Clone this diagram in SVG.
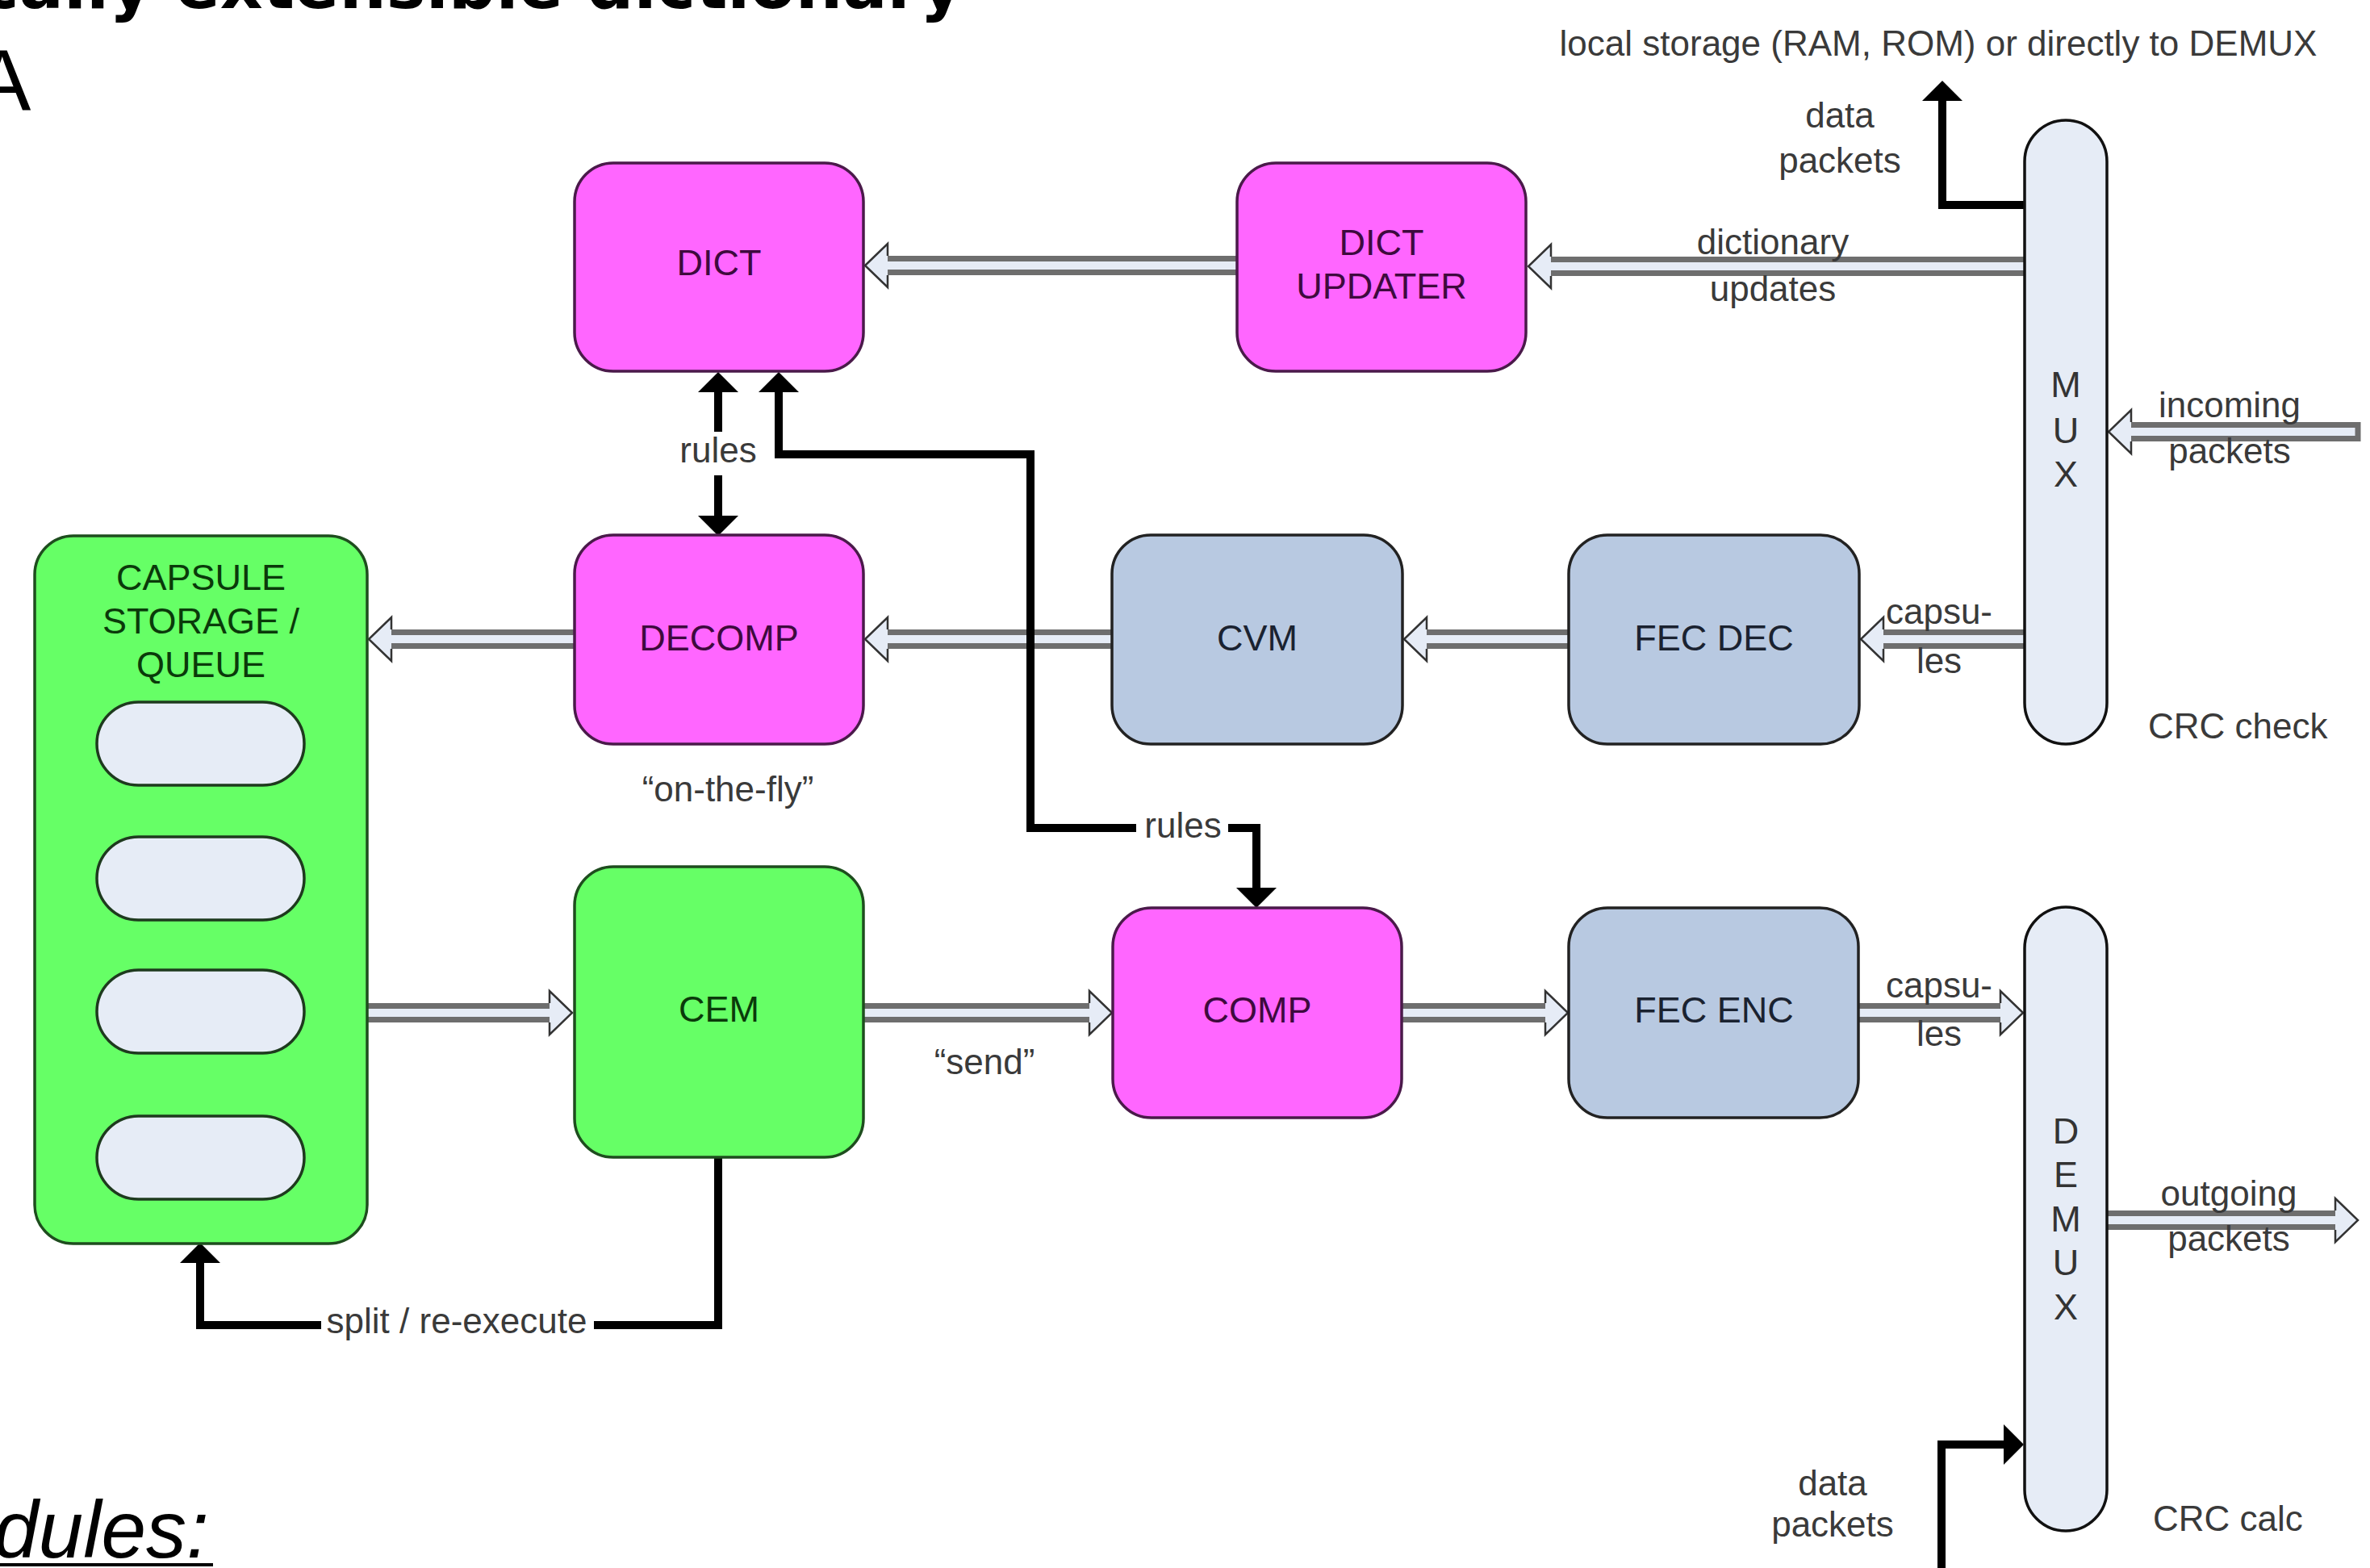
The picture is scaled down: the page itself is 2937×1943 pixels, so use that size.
<svg xmlns="http://www.w3.org/2000/svg" width="2937" height="1943" viewBox="0 0 2937 1943">
<defs>
<style>
.mag{fill:#FF66FF;stroke:#4A1A4A;stroke-width:3.5}
.grn{fill:#66FF66;stroke:#1E4D1E;stroke-width:3.5}
.blu{fill:#B8C9E1;stroke:#222;stroke-width:3.5}
.lt{fill:#E6ECF6;stroke:#111;stroke-width:3.5}
.tm{font-family:"Liberation Sans",Arial,sans-serif;font-size:45px;fill:#3E0A3E;text-anchor:middle}
.tg{font-family:"Liberation Sans",Arial,sans-serif;font-size:45px;fill:#0A3A0A;text-anchor:middle}
.tb{font-family:"Liberation Sans",Arial,sans-serif;font-size:45px;fill:#1A2230;text-anchor:middle}
.tx{font-family:"Liberation Sans",Arial,sans-serif;font-size:45px;fill:#333;text-anchor:middle}
.lbl{font-family:"Liberation Sans",Arial,sans-serif;font-size:44px;fill:#3A3A3A;text-anchor:middle}
.shaft{fill:#E6ECF6;stroke:#6E6E6E;stroke-width:7}
.head{fill:#E6ECF6;stroke:#333;stroke-width:2.5}
.blk{fill:none;stroke:#000;stroke-width:10;stroke-linejoin:miter}
</style>
<marker id="ah" markerUnits="userSpaceOnUse" markerWidth="26" markerHeight="50" refX="0" refY="25" orient="auto" viewBox="0 0 26 50"><path d="M0,0 L25,25 L0,50 z" fill="#000"/></marker>
</defs>
<rect width="2937" height="1943" fill="#fff"/>

<g id="slide-text" font-family="Liberation Sans, Arial, sans-serif">
<text x="-25" y="10" font-family="DejaVu Sans, sans-serif" font-weight="bold" font-size="82">cally extensible dictionary</text>
<text x="-33" y="137" font-size="107" fill="#000">A</text>
<text x="-8" y="1930" font-size="100" font-style="italic" fill="#000">dules:</text>
<rect x="0" y="1937" width="264" height="4" fill="#000"/>
</g>

<g id="connectors">
<!-- hollow arrows -->
<rect class="shaft" x="1092" y="320.5" width="448" height="17"/>
<path class="head" d="M1100,317 V302 L1072,329 L1100,356 V341"/>
<rect class="shaft" x="1914" y="321.5" width="601" height="17"/>
<path class="head" d="M1922,318 V303 L1894,330 L1922,357 V342"/>
<rect class="shaft" x="2326" y="783.5" width="189" height="17"/>
<path class="head" d="M2334,780 V765 L2306,792 L2334,819 V804"/>
<rect class="shaft" x="1760" y="783.5" width="190" height="17"/>
<path class="head" d="M1768,780 V765 L1740,792 L1768,819 V804"/>
<rect class="shaft" x="1092" y="783.5" width="293" height="17"/>
<path class="head" d="M1100,780 V765 L1072,792 L1100,819 V804"/>
<rect class="shaft" x="477" y="783.5" width="243" height="17"/>
<path class="head" d="M485,780 V765 L457,792 L485,819 V804"/>
<rect class="shaft" x="2633" y="526.5" width="289" height="17"/>
<path class="head" d="M2641,523 V508 L2613,535 L2641,562 V547"/>
<rect class="shaft" x="450" y="1246.5" width="239" height="17"/>
<path class="head" d="M681,1243 V1228 L709,1255 L681,1282 V1267"/>
<rect class="shaft" x="1065" y="1246.5" width="293" height="17"/>
<path class="head" d="M1350,1243 V1228 L1378,1255 L1350,1282 V1267"/>
<rect class="shaft" x="1730" y="1246.5" width="193" height="17"/>
<path class="head" d="M1915,1243 V1228 L1943,1255 L1915,1282 V1267"/>
<rect class="shaft" x="2298" y="1246.5" width="189" height="17"/>
<path class="head" d="M2479,1243 V1228 L2507,1255 L2479,1282 V1267"/>
<rect class="shaft" x="2605" y="1503.5" width="297" height="17"/>
<path class="head" d="M2894,1500 V1485 L2922,1512 L2894,1539 V1524"/>
<!-- black arrows -->
<path class="blk" d="M890,535 V486" marker-end="url(#ah)"/>
<path class="blk" d="M890,589 V639" marker-end="url(#ah)"/>
<path class="blk" d="M1408,1026 H1277 V563 H965 V486" marker-end="url(#ah)"/>
<path class="blk" d="M1522,1026 H1557 V1100" marker-end="url(#ah)"/>
<path class="blk" d="M890,1434 V1642 H736"/>
<path class="blk" d="M398,1642 H248 V1565" marker-end="url(#ah)"/>
<path class="blk" d="M2514,254 H2407 V125" marker-end="url(#ah)"/>
<path class="blk" d="M2406,1943 V1790 H2483" marker-end="url(#ah)"/>
<!-- labels -->
<text class="lbl" x="2402" y="69" font-size="45">local storage (RAM, ROM) or directly to DEMUX</text>
<text class="lbl" x="2280" y="158">data</text>
<text class="lbl" x="2280" y="214">packets</text>
<text class="lbl" x="2197" y="315">dictionary</text>
<text class="lbl" x="2197" y="373">updates</text>
<text class="lbl" x="2763" y="517">incoming</text>
<text class="lbl" x="2763" y="574">packets</text>
<text class="lbl" x="2403" y="773">capsu-</text>
<text class="lbl" x="2403" y="834">les</text>
<text class="lbl" x="2403" y="1236">capsu-</text>
<text class="lbl" x="2403" y="1296">les</text>
<text class="lbl" x="2762" y="1494">outgoing</text>
<text class="lbl" x="2762" y="1550">packets</text>
<text class="lbl" x="2271" y="1853">data</text>
<text class="lbl" x="2271" y="1904">packets</text>
<text class="lbl" x="2662" y="915" style="text-anchor:start">CRC check</text>
<text class="lbl" x="2668" y="1897" style="text-anchor:start">CRC calc</text>
<text class="lbl" x="890" y="573">rules</text>
<text class="lbl" x="1466" y="1038">rules</text>
<text class="lbl" x="566" y="1652">split / re-execute</text>
<text class="lbl" x="902" y="993">“on-the-fly”</text>
<text class="lbl" x="1220" y="1331">“send”</text>
</g>

<g id="DICT">
<rect class="mag" x="712" y="202" width="358" height="258" rx="48"/>
<text class="tm" x="891" y="341">DICT</text>
</g>
<g id="DICT_UPDATER">
<rect class="mag" x="1533" y="202" width="358" height="258" rx="48"/>
<text class="tm" x="1712" y="316">DICT</text>
<text class="tm" x="1712" y="370">UPDATER</text>
</g>
<g id="DECOMP">
<rect class="mag" x="712" y="663" width="358" height="259" rx="48"/>
<text class="tm" x="891" y="806">DECOMP</text>
</g>
<g id="CVM">
<rect class="blu" x="1378" y="663" width="360" height="259" rx="48"/>
<text class="tb" x="1558" y="806">CVM</text>
</g>
<g id="FEC_DEC">
<rect class="blu" x="1944" y="663" width="360" height="259" rx="48"/>
<text class="tb" x="2124" y="806">FEC DEC</text>
</g>
<g id="MUX">
<rect class="lt" x="2509" y="149" width="102" height="773" rx="51"/>
<text class="tx" x="2560" y="492">M</text>
<text class="tx" x="2560" y="549">U</text>
<text class="tx" x="2560" y="603">X</text>
</g>
<g id="CAPSULE_STORAGE">
<rect class="grn" x="43" y="664" width="412" height="877" rx="48"/>
<text class="tg" x="249" y="731">CAPSULE</text>
<text class="tg" x="249" y="785">STORAGE /</text>
<text class="tg" x="249" y="839">QUEUE</text>
<rect class="lt" x="120" y="870" width="257" height="103" rx="51.5" style="stroke:#1E3A1E"/>
<rect class="lt" x="120" y="1037" width="257" height="103" rx="51.5" style="stroke:#1E3A1E"/>
<rect class="lt" x="120" y="1202" width="257" height="103" rx="51.5" style="stroke:#1E3A1E"/>
<rect class="lt" x="120" y="1383" width="257" height="103" rx="51.5" style="stroke:#1E3A1E"/>
</g>
<g id="CEM">
<rect class="grn" x="712" y="1074" width="358" height="360" rx="48"/>
<text class="tg" x="891" y="1266">CEM</text>
</g>
<g id="COMP">
<rect class="mag" x="1379" y="1125" width="358" height="260" rx="48"/>
<text class="tm" x="1558" y="1267">COMP</text>
</g>
<g id="FEC_ENC">
<rect class="blu" x="1944" y="1125" width="359" height="260" rx="48"/>
<text class="tb" x="2124" y="1267">FEC ENC</text>
</g>
<g id="DEMUX">
<rect class="lt" x="2509" y="1124" width="102" height="773" rx="51"/>
<text class="tx" x="2560" y="1417">D</text>
<text class="tx" x="2560" y="1471">E</text>
<text class="tx" x="2560" y="1526">M</text>
<text class="tx" x="2560" y="1580">U</text>
<text class="tx" x="2560" y="1635">X</text>
</g>
</svg>
